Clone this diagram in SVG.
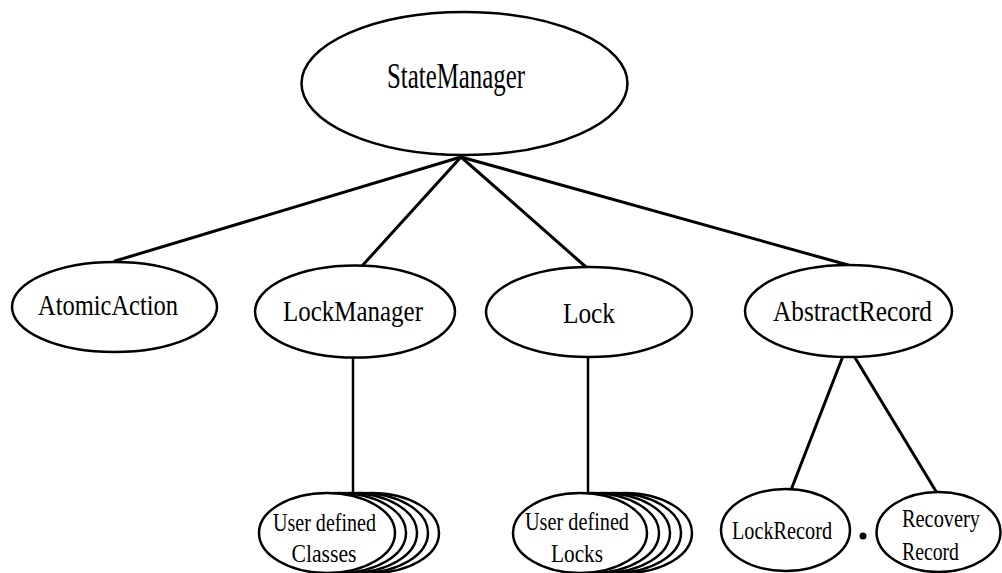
<svg xmlns="http://www.w3.org/2000/svg" width="1002" height="573" viewBox="0 0 1002 573">
  <style>
    .node { fill: #fff; stroke: #000; stroke-width: 2.5; }
    .edge { stroke: #000; stroke-width: 3; stroke-linecap: round; fill: none; }
    .vedge { stroke: #000; stroke-width: 2.5; fill: none; }
    .lbl { font-family: "Liberation Serif", "Times New Roman", serif; fill: #000; text-anchor: middle; }
    .big { font-size: 35px; }
    .mid { font-size: 29px; }
    .small { font-size: 25px; }
  </style>
  <defs>
    <ellipse id="stackShape" cx="0" cy="0" rx="67" ry="40" class="node"/>
  </defs>

  <!-- connectors -->
  <g id="connectors">
    <line class="edge" x1="461" y1="157" x2="115" y2="261"/>
    <line class="edge" x1="461" y1="157" x2="362" y2="266"/>
    <line class="edge" x1="461" y1="157" x2="586" y2="267"/>
    <line class="edge" x1="461" y1="157" x2="848" y2="265"/>
    <line class="vedge" x1="353" y1="357" x2="353" y2="494"/>
    <line class="vedge" x1="588" y1="357" x2="588" y2="494"/>
    <line class="edge" x1="843" y1="356" x2="791" y2="490"/>
    <line class="edge" x1="854" y1="356" x2="937" y2="493"/>
  </g>

  <g id="StateManager">
    <ellipse class="node" cx="464.5" cy="83.5" rx="163" ry="71.5"/>
    <text class="lbl big" x="456" y="88" textLength="138" lengthAdjust="spacingAndGlyphs">StateManager</text>
  </g>

  <g id="AtomicAction">
    <ellipse class="node" cx="114.5" cy="307" rx="102.5" ry="45"/>
    <text class="lbl mid" x="108" y="315" textLength="140" lengthAdjust="spacingAndGlyphs">AtomicAction</text>
  </g>

  <g id="LockManager">
    <ellipse class="node" cx="355" cy="311.5" rx="100" ry="46"/>
    <text class="lbl mid" x="353" y="321" textLength="140" lengthAdjust="spacingAndGlyphs">LockManager</text>
  </g>

  <g id="Lock">
    <ellipse class="node" cx="589" cy="312" rx="103" ry="45"/>
    <text class="lbl mid" x="589" y="323" textLength="52" lengthAdjust="spacingAndGlyphs">Lock</text>
  </g>

  <g id="AbstractRecord">
    <ellipse class="node" cx="848.5" cy="311" rx="103.5" ry="46"/>
    <text class="lbl mid" x="852.5" y="321" textLength="159" lengthAdjust="spacingAndGlyphs">AbstractRecord</text>
  </g>

  <!-- stacked instances: back copies first, front ellipse last -->
  <g id="UserDefinedClasses">
    <use href="#stackShape" x="372" y="533"/>
    <use href="#stackShape" x="361" y="533"/>
    <use href="#stackShape" x="350" y="533"/>
    <use href="#stackShape" x="339" y="533"/>
    <ellipse class="node" cx="327" cy="533" rx="68" ry="40"/>
    <text class="lbl small" x="324.5" y="531" textLength="103" lengthAdjust="spacingAndGlyphs">User defined</text>
    <text class="lbl small" x="324" y="562" textLength="65" lengthAdjust="spacingAndGlyphs">Classes</text>
  </g>

  <g id="UserDefinedLocks">
    <use href="#stackShape" x="625" y="533"/>
    <use href="#stackShape" x="614" y="533"/>
    <use href="#stackShape" x="603" y="533"/>
    <use href="#stackShape" x="592" y="533"/>
    <ellipse class="node" cx="580" cy="533" rx="67" ry="40"/>
    <text class="lbl small" x="577" y="530" textLength="104" lengthAdjust="spacingAndGlyphs">User defined</text>
    <text class="lbl small" x="577" y="562" textLength="52" lengthAdjust="spacingAndGlyphs">Locks</text>
  </g>

  <g id="LockRecord">
    <ellipse class="node" cx="785.5" cy="530" rx="64.5" ry="41"/>
    <text class="lbl small" x="782" y="539" textLength="100" lengthAdjust="spacingAndGlyphs">LockRecord</text>
  </g>

  <g id="Ellipsis">
    <circle cx="863" cy="536" r="3.5" fill="#000"/>
  </g>

  <g id="RecoveryRecord">
    <ellipse class="node" cx="938.5" cy="532" rx="62" ry="40"/>
    <text class="lbl small" x="902" y="527" textLength="78" lengthAdjust="spacingAndGlyphs" style="text-anchor:start">Recovery</text>
    <text class="lbl small" x="902" y="560" textLength="57" lengthAdjust="spacingAndGlyphs" style="text-anchor:start">Record</text>
  </g>
</svg>
